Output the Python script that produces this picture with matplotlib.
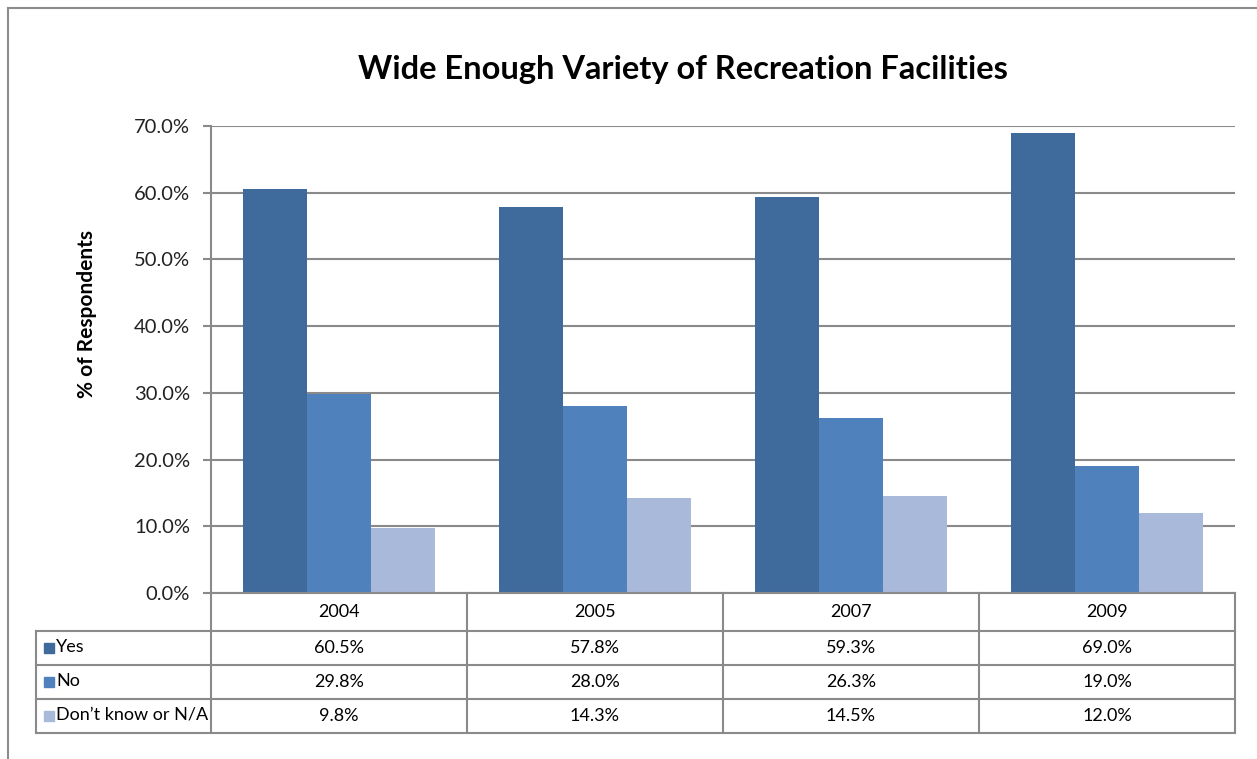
import numpy as np
import matplotlib
matplotlib.use("Agg")
import matplotlib.pyplot as plt
from matplotlib.patches import Rectangle
from matplotlib.lines import Line2D

plt.rcParams['font.family'] = ['Lato', 'DejaVu Sans']

years = ['2004', '2005', '2007', '2009']
series = ['Yes', 'No', 'Don\u2019t know or N/A']
yes = [60.5, 57.8, 59.3, 69.0]
no = [29.8, 28.0, 26.3, 19.0]
dont_know = [9.8, 14.3, 14.5, 12.0]
colors = ['#3F6A9C', '#4F81BD', '#A9B9D9']
title = 'Wide Enough Variety of Recreation Facilities'

W, H = 1257, 759
fig = plt.figure(figsize=(W / 100, H / 100), dpi=100)

# chart border (left/top visible)
fig.add_artist(Line2D([8 / W, 8 / W], [0, 1 - 8 / H], color='#8c8c8c', lw=1.5))
fig.add_artist(Line2D([8 / W, 1], [1 - 8 / H, 1 - 8 / H], color='#8c8c8c', lw=1.5))

px_l, px_r, px_t, px_b = 211, 1235, 126, 593
ax = fig.add_axes([px_l / W, 1 - px_b / H, (px_r - px_l) / W, (px_b - px_t) / H])

x = np.arange(len(years))
w = 0.25
data = [yes, no, dont_know]
for i, vals in enumerate(data):
    ax.bar(x + (i - 1) * w, vals, width=w, color=colors[i], zorder=3)

ax.set_xlim(-0.5, len(years) - 0.5)
ax.set_ylim(0, 70)
ax.set_yticks(np.arange(0, 71, 10))
ax.set_yticklabels(['%.1f%%' % v for v in np.arange(0, 71, 10)], fontsize=14.5, color='#222222')
ax.set_xticks([])
ax.yaxis.grid(True, color='#8a8a8a', lw=1.5, zorder=0)
for s in ['top', 'right', 'bottom']:
    ax.spines[s].set_visible(False)
ax.spines['left'].set_color('#8a8a8a')
ax.spines['left'].set_linewidth(1.5)
ax.tick_params(axis='y', length=6, width=1.5, color='#8a8a8a', pad=9)
ax.set_ylabel('% of Respondents', fontsize=15, fontweight='bold', va='center')
ax.yaxis.set_label_coords(-0.121, 0.597)

fig.text(683 / W, 1 - 70 / H, title, ha='center', va='center', fontsize=23.5, fontweight='bold')

# data table under the chart
t_l, t_b = 36, 733
tax = fig.add_axes([t_l / W, 1 - t_b / H, (px_r - t_l) / W, (t_b - px_b) / H])
tax.set_xlim(t_l, px_r)
tax.set_ylim(t_b, px_b)
tax.axis('off')
gc = '#8a8a8a'
col_w = (px_r - px_l) / len(years)
rows = [px_b, 631, 665, 699, 733]
# horizontal lines
tax.plot([px_l, px_r], [rows[0], rows[0]], color=gc, lw=1.5, clip_on=False)
for r in rows[1:]:
    tax.plot([t_l, px_r], [r, r], color=gc, lw=1.5, clip_on=False)
# vertical lines
tax.plot([t_l, t_l], [rows[1], rows[-1]], color=gc, lw=1.5, clip_on=False)
for j in range(len(years) + 1):
    xx = px_l + j * col_w
    tax.plot([xx, xx], [rows[0], rows[-1]], color=gc, lw=1.5, clip_on=False)

for j, yr in enumerate(years):
    cx = px_l + (j + 0.5) * col_w
    tax.text(cx, (rows[0] + rows[1]) / 2, yr, ha='center', va='center', fontsize=13)
    for i, vals in enumerate(data):
        tax.text(cx, (rows[i + 1] + rows[i + 2]) / 2, '%.1f%%' % vals[j],
                 ha='center', va='center', fontsize=13)

for i, name in enumerate(series):
    cy = (rows[i + 1] + rows[i + 2]) / 2
    tax.add_patch(Rectangle((t_l + 8, cy - 5), 10, 10, color=colors[i], clip_on=False))
    tax.text(t_l + 20, cy - 1, name, ha='left', va='center', fontsize=13)

fig.savefig('out.png', dpi=100, facecolor='white')
